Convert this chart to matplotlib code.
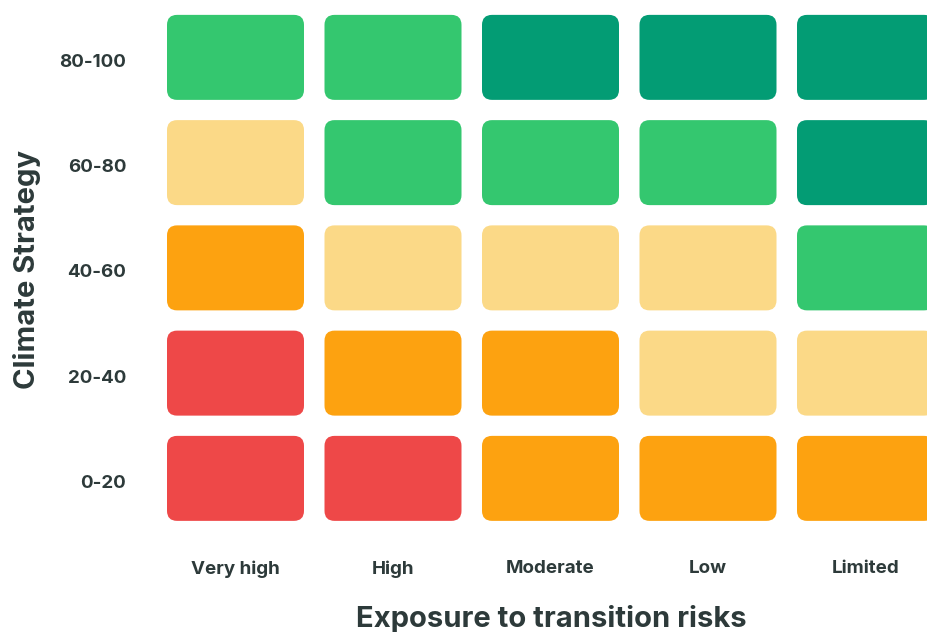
import matplotlib.pyplot as plt
import matplotlib.transforms as mtransforms
from matplotlib.patches import FancyBboxPatch

# Data
strategy = ['0-20', '20-40', '40-60', '60-80', '80-100']
exposure = ['Very high', 'High', 'Moderate', 'Low', 'Limited']
# score levels per row (0-20 first), columns in exposure order
scores = [
    [0, 0, 1, 1, 1],
    [0, 1, 1, 2, 2],
    [1, 2, 2, 2, 3],
    [2, 3, 3, 3, 4],
    [3, 3, 4, 4, 4],
]
palette = ['#EE4848', '#FDA210', '#FBD987', '#34C76F', '#039C74']

text_color = '#2D3A3A'
plt.rcParams['font.family'] = ['Inter', 'DejaVu Sans']

W, H = 928, 632
fig = plt.figure(figsize=(W / 100, H / 100), dpi=100)

col_px = 157.5
row_px = 105.25
left_px = 235.5 - col_px / 2
bottom_px = 531
ax = fig.add_axes([left_px / W, (H - bottom_px) / H, (W - left_px) / W, 5 * row_px / H])
ax.set_xlim(-0.5, -0.5 + (W - left_px) / col_px)
ax.set_ylim(-0.5, 4.5)

bw = 137 / col_px
bh = 85 / row_px
aspect = col_px / row_px
rad = 10 / col_px

for r, row in enumerate(scores):
    for c, s in enumerate(row):
        box = FancyBboxPatch((c - bw / 2, r - bh / 2), bw, bh,
                             boxstyle=f'round,pad=0,rounding_size={rad}',
                             mutation_aspect=aspect,
                             facecolor=palette[s], edgecolor='none')
        ax.add_patch(box)

ax.set_xticks(range(len(exposure)))
ax.set_xticklabels(exposure, fontsize=13.5, fontweight='bold', color=text_color)
ax.set_yticks(range(len(strategy)))
ax.set_yticklabels(strategy, fontsize=13.5, fontweight='bold', color=text_color)
ax.tick_params(length=0)
ax.tick_params(axis='x', pad=21)
ax.tick_params(axis='y', pad=22)
shift = mtransforms.ScaledTranslation(0, -3 / 100, fig.dpi_scale_trans)
for lab in ax.get_yticklabels():
    lab.set_transform(lab.get_transform() + shift)
for sp in ax.spines.values():
    sp.set_visible(False)

fig.text(551 / W, 1 - 619 / H, 'Exposure to transition risks', ha='center', va='center',
         fontsize=21, fontweight='bold', color=text_color)
fig.text(27 / W, 1 - 269 / H, 'Climate Strategy', ha='center', va='center', rotation=90,
         fontsize=21, fontweight='bold', color=text_color)

fig.savefig('out.png', dpi=100)
